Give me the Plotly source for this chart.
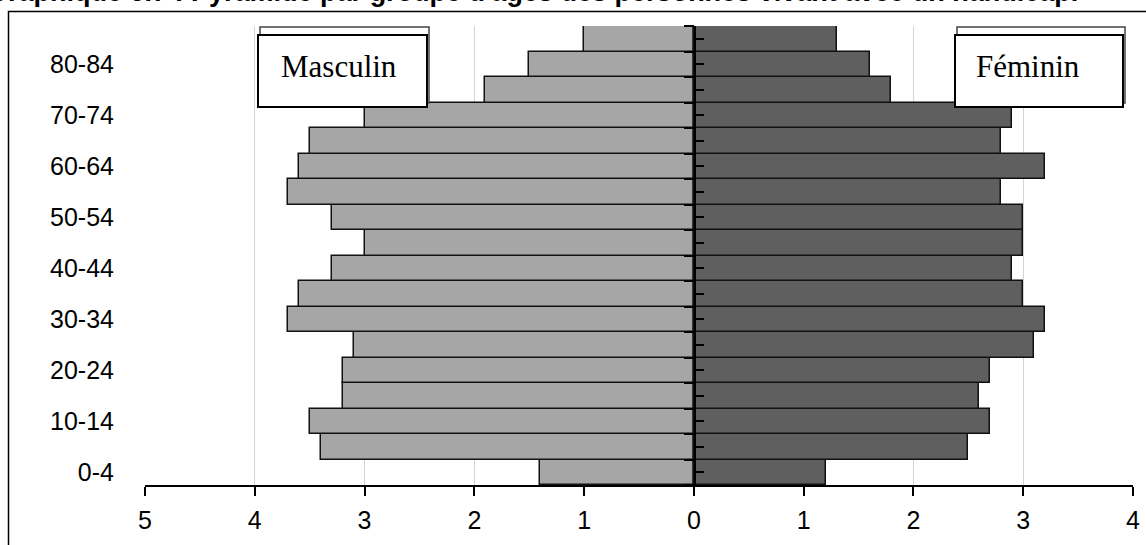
import plotly.graph_objects as go

# Data
age_groups = ["0-4", "5-9", "10-14", "15-19", "20-24", "25-29", "30-34", "35-39",
              "40-44", "45-49", "50-54", "55-59", "60-64", "65-69", "70-74",
              "75-79", "80-84", "85+"]
masculin = [1.4, 3.4, 3.5, 3.2, 3.2, 3.1, 3.7, 3.6, 3.3, 3.0, 3.3, 3.7, 3.6, 3.5,
            3.0, 1.9, 1.5, 1.0]
feminin = [1.2, 2.5, 2.7, 2.6, 2.7, 3.1, 3.2, 3.0, 2.9, 3.0, 3.0, 2.8, 3.2, 2.8,
           2.9, 1.8, 1.6, 1.3]
x_ticks = [-5, -4, -3, -2, -1, 0, 1, 2, 3, 4]
x_ticktext = ["5", "4", "3", "2", "1", "0", "1", "2", "3", "4"]
y_label_groups = ["0-4", "10-14", "20-24", "30-34", "40-44", "50-54", "60-64", "70-74", "80-84"]

W, H = 1146, 545
L, R, T, B = 145, 13, 26, 60
PW, PH = W - L - R, H - T - B


def px(x):
    return (x - L) / PW


def py(y):
    return 1 - (y - T) / PH


idx = list(range(len(age_groups)))
fig = go.Figure()
fig.add_trace(go.Bar(y=idx, x=[-v for v in masculin], orientation="h",
                     marker=dict(color="#a6a6a6", line=dict(color="#111111", width=1.5)),
                     name="Masculin", showlegend=False))
fig.add_trace(go.Bar(y=idx, x=feminin, orientation="h",
                     marker=dict(color="#5f5f5f", line=dict(color="#111111", width=1.5)),
                     name="Féminin", showlegend=False))

label_vals = [age_groups.index(g) for g in y_label_groups]

fig.update_layout(
    width=W, height=H,
    margin=dict(l=L, r=R, t=T, b=B, pad=0, autoexpand=False),
    paper_bgcolor="white", plot_bgcolor="white",
    barmode="relative", bargap=0,
    font=dict(family="Liberation Sans, Arial", color="black"),
    xaxis=dict(range=[-5, 4], tickvals=x_ticks, ticktext=x_ticktext,
               showgrid=True, gridcolor="#d4d4d4", gridwidth=1,
               zeroline=False, showline=True, linecolor="black", linewidth=2,
               ticks="outside", ticklen=9, tickwidth=2, tickcolor="black",
               tickfont=dict(size=25), ticklabelstandoff=3, automargin=False),
    yaxis=dict(range=[-0.5, 17.5], tickvals=label_vals, ticktext=y_label_groups,
               showgrid=False, zeroline=False, showline=False, ticks="",
               tickfont=dict(size=25), ticklabelstandoff=30, automargin=False),
    yaxis2=dict(range=[-0.5, 17.5], overlaying="y", anchor="free", side="left",
                position=px(695), showgrid=False, zeroline=False,
                showline=True, linecolor="black", linewidth=2,
                showticklabels=False, automargin=False,
                tickvals=[i - 0.5 for i in range(len(age_groups) + 1)],
                ticks="outside", ticklen=10, tickwidth=2, tickcolor="black",
                minor=dict(tickvals=idx, ticks="inside", ticklen=8, tickwidth=2,
                           tickcolor="black", showgrid=False)),
)
# invisible trace so yaxis2 is drawn
fig.add_trace(go.Scatter(x=[0], y=[0], yaxis="y2", mode="markers",
                         marker=dict(opacity=0), showlegend=False, hoverinfo="skip"))

shapes = []
# outer frame
shapes.append(dict(type="rect", xref="paper", yref="paper",
                   x0=px(8.5), x1=px(1160), y0=py(570), y1=py(11.5),
                   line=dict(color="black", width=1.5), fillcolor="rgba(0,0,0,0)",
                   layer="above"))
# legend boxes
for (bx0, bx1) in [(258, 427), (955, 1123)]:
    shapes.append(dict(type="rect", xref="paper", yref="paper",
                       x0=px(bx0 + 2), x1=px(bx1 + 2), y0=py(103), y1=py(27),
                       line=dict(color="#444444", width=1.5), fillcolor="white",
                       layer="above"))
    shapes.append(dict(type="rect", xref="paper", yref="paper",
                       x0=px(bx0), x1=px(bx1), y0=py(107), y1=py(35),
                       line=dict(color="black", width=2), fillcolor="white",
                       layer="above"))
fig.update_layout(shapes=shapes)

annotations = [
    dict(text="Masculin", xref="paper", yref="paper", x=px(280), y=py(66),
         xanchor="left", yanchor="middle", showarrow=False, borderpad=0,
         font=dict(family="Liberation Serif, Times New Roman", size=31, color="black")),
    dict(text="Féminin", xref="paper", yref="paper", x=px(975), y=py(66),
         xanchor="left", yanchor="middle", showarrow=False, borderpad=0,
         font=dict(family="Liberation Serif, Times New Roman", size=31, color="black")),
    dict(text="<b>Graphique 6.7 : Pyramide par groupe d'âges des personnes vivant avec un handicap.</b>",
         xref="paper", yref="paper", x=px(-14), y=py(-8),
         xanchor="left", yanchor="middle", showarrow=False, borderpad=0,
         font=dict(family="Liberation Sans, Arial", size=27, color="black")),
]
fig.update_layout(annotations=annotations)

fig.write_html("out.html", config={"displayModeBar": False},
               post_script="document.body.style.margin='0px';document.body.style.overflow='hidden';")
